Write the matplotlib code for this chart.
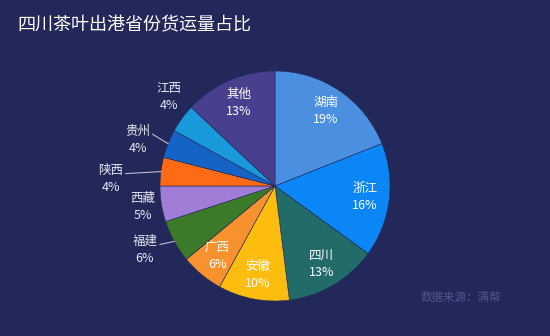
import numpy as np
import matplotlib
matplotlib.use('Agg')
import matplotlib.pyplot as plt

plt.rcParams['font.family'] = ['Noto Sans CJK SC', 'DejaVu Sans']

# data
provinces = ['湖南', '浙江', '四川', '安徽', '广西', '福建', '西藏', '陕西', '贵州', '江西', '其他']
shares = [19, 16, 13, 10, 6, 6, 5, 4, 4, 4, 13]
colors = ['#4a8fe0', '#0b86f7', '#216c69', '#fcbd0f', '#f7922e', '#3b7a28',
          '#a07ed8', '#ff6a14', '#1663c6', '#1899dc', '#493f8f']

# label layout: radius factor, angle nudge (deg), leader line
label_r = [0.79, 0.79, 0.79, 0.79, 0.79, 1.26, 1.16, 1.43, 1.26, 1.2, 0.79]
label_da = [0, 0, 0, 0, 0, -2.6, 0, 4.8, 3, -4, 0]
leader = [False, False, False, False, False, True, False, True, True, False, False]

bg = '#23285a'
W, H = 550, 336
cx, cy, R = 275, H - 186, 115

fig = plt.figure(figsize=(5.5, 3.36), dpi=100, facecolor=bg)
ax = fig.add_axes([0, 0, 1, 1])

wedges, _ = ax.pie(shares, colors=colors, startangle=90, counterclock=False,
                   center=(cx, cy), radius=R, frame=True,
                   wedgeprops=dict(edgecolor=bg, linewidth=0.4))
ax.set_xlim(0, W)
ax.set_ylim(0, H)
ax.set_aspect('equal')
ax.axis('off')

for w, name, pct, rf, da, ld in zip(wedges, provinces, shares, label_r, label_da, leader):
    mid = (w.theta1 + w.theta2) / 2
    a = np.deg2rad(mid + da)
    x = cx + R * rf * np.cos(a)
    y = cy + R * rf * np.sin(a)
    col = 'white' if rf < 1 else '#e6e8f2'
    ax.text(x, y + 8.5, name, color=col, fontsize=9, ha='center', va='center')
    ax.text(x, y - 8.5, f'{pct}%', color=col, fontsize=9, ha='center', va='center')
    if ld:
        am = np.deg2rad(mid)
        x0, y0 = cx + R * np.cos(am), cy + R * np.sin(am)
        ax.plot([x0, x + 15], [y0, y + 5.5], color='#b8bccf', lw=0.8)

ax.text(17, H - 25, '四川茶叶出港省份货运量占比', color='white', fontsize=13,
        ha='left', va='center')
ax.text(461, H - 297, '数据来源：满帮', color='#50578c', fontsize=8.3,
        ha='center', va='center')

fig.savefig('out.png', dpi=100, facecolor=bg)
